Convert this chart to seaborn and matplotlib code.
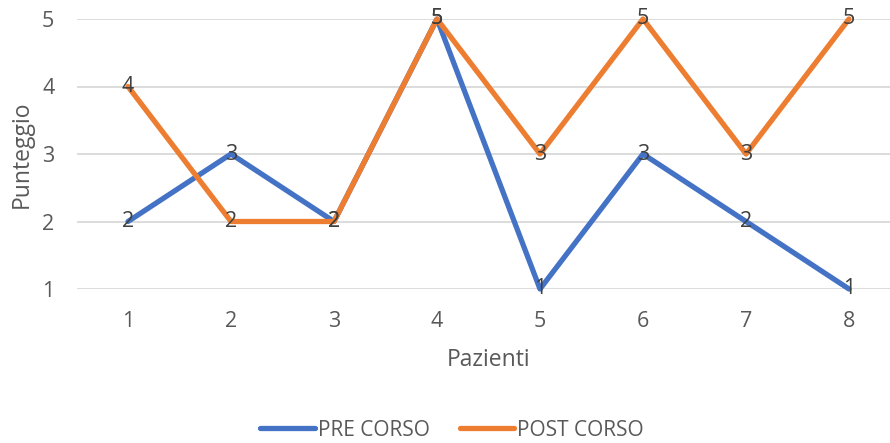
import matplotlib
matplotlib.use("Agg")
import matplotlib.pyplot as plt
import seaborn as sns
import pandas as pd

pazienti = [1, 2, 3, 4, 5, 6, 7, 8]
pre_corso = [2, 3, 2, 5, 1, 3, 2, 1]
post_corso = [4, 2, 2, 5, 3, 5, 3, 5]
series_names = ["PRE CORSO", "POST CORSO"]
colors = ["#4472C4", "#ED7D31"]
y_ticks = [1, 2, 3, 4, 5]

df = pd.DataFrame({
    "Pazienti": pazienti * 2,
    "Punteggio": pre_corso + post_corso,
    "Serie": [series_names[0]] * len(pazienti) + [series_names[1]] * len(pazienti),
})

sns.set_theme(style="white")
plt.rcParams["font.family"] = ["Open Sans", "DejaVu Sans"]

fig = plt.figure(figsize=(8.9, 4.43), dpi=100)
ax = fig.add_axes([76.5 / 890, (443 - 289) / 443, (900.5 - 76.5) / 890, 270 / 443])

sns.lineplot(data=df, x="Pazienti", y="Punteggio", hue="Serie",
             palette=dict(zip(series_names, colors)), linewidth=3.8,
             ax=ax, legend=True, clip_on=False)

for xs, ys in [(pazienti, pre_corso), (pazienti, post_corso)]:
    for x, y in zip(xs, ys):
        ax.text(x, y, str(y), ha="center", va="center", fontsize=15.5,
                color="#404040", zorder=5)

ax.set_xlim(0.5, 8.5)
ax.set_ylim(1, 5)
ax.set_xticks(pazienti)
ax.set_yticks(y_ticks)
ax.grid(axis="y", color="#D9D9D9", linewidth=1.3)
ax.grid(axis="x", visible=False)
ax.set_axisbelow(True)
for s in ax.spines.values():
    s.set_visible(False)
ax.tick_params(axis="both", length=0, labelsize=15.5, labelcolor="#595959")
ax.tick_params(axis="y", pad=16)
ax.tick_params(axis="x", pad=16)
ax.set_xlabel("Pazienti", fontsize=16.5, color="#595959", labelpad=11)
ax.set_ylabel("Punteggio", fontsize=16.5, color="#595959", labelpad=6)

handles, labels = ax.get_legend_handles_labels()
ax.legend_.remove()
leg = fig.legend(handles, labels, loc="center", bbox_to_anchor=(452 / 890, 1 - 430 / 443),
                 ncol=2, frameon=False, fontsize=15, handlelength=2.6,
                 columnspacing=1.45, handletextpad=0.15)
for t in leg.get_texts():
    t.set_color("#595959")
for h in leg.get_lines():
    h.set_linewidth(3.8)

fig.savefig("out.png", dpi=100)
